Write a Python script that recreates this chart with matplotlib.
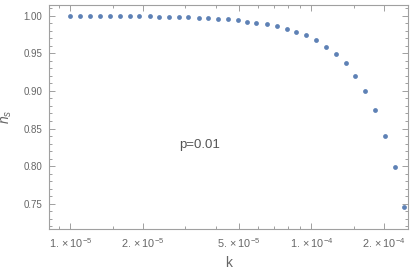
import numpy as np
import matplotlib
matplotlib.use("Agg")
import matplotlib.pyplot as plt
from matplotlib.ticker import FixedLocator, NullFormatter, MultipleLocator

plt.rcParams["font.family"] = ["Liberation Sans", "DejaVu Sans"]
plt.rcParams["mathtext.fontset"] = "custom"
plt.rcParams["mathtext.rm"] = "Liberation Sans"
plt.rcParams["mathtext.it"] = "Liberation Sans:italic"

# values
k = [1.00e-5, 1.10e-5, 1.21e-5, 1.33e-5, 1.46e-5, 1.60e-5, 1.77e-5, 1.93e-5,
     2.13e-5, 2.33e-5, 2.56e-5, 2.82e-5, 3.08e-5, 3.41e-5, 3.74e-5, 4.10e-5,
     4.51e-5, 4.95e-5, 5.41e-5, 5.91e-5, 6.57e-5, 7.20e-5, 7.92e-5, 8.66e-5,
     9.52e-5, 1.041e-4, 1.152e-4, 1.26e-4, 1.385e-4, 1.515e-4, 1.671e-4,
     1.838e-4, 2.016e-4, 2.218e-4, 2.424e-4]
n_s = [0.9998, 0.9998, 0.9998, 0.9998, 0.9998, 0.9998, 0.9998, 0.9998,
       0.9998, 0.9982, 0.9982, 0.9982, 0.9982, 0.9965, 0.9965, 0.9951,
       0.9951, 0.9938, 0.9920, 0.9903, 0.9889, 0.9858, 0.9827, 0.9783,
       0.9739, 0.9677, 0.9584, 0.9491, 0.9372, 0.9204, 0.9004, 0.8743,
       0.8407, 0.7990, 0.7452]

x_major = [1e-5, 2e-5, 5e-5, 1e-4, 2e-4]
x_major_labels = [r"$\mathregular{1.\times10^{-5}}$", r"$\mathregular{2.\times10^{-5}}$",
                  r"$\mathregular{5.\times10^{-5}}$", r"$\mathregular{1.\times10^{-4}}$",
                  r"$\mathregular{2.\times10^{-4}}$"]
x_minor = [9e-6, 1.5e-5, 3e-5, 4e-5, 6e-5, 7e-5, 8e-5, 9e-5, 1.5e-4]

FRAME = "#a0a0a0"
TEXT = "#666666"
DOT = "#5e81b5"

fig = plt.figure(figsize=(4.14, 2.73), dpi=100)
ax = fig.add_axes([0.119, 0.162, 0.8665, 0.821])

ax.scatter(k, n_s, s=12, color=DOT, linewidths=0, zorder=3)

ax.set_xscale("log")
ax.set_xlim(8.18e-6, 2.513e-4)
ax.set_ylim(0.7168, 1.0146)

ax.xaxis.set_major_locator(FixedLocator(x_major))
ax.set_xticklabels(x_major_labels)
ax.xaxis.set_minor_locator(FixedLocator(x_minor))
ax.xaxis.set_minor_formatter(NullFormatter())

ax.yaxis.set_major_locator(MultipleLocator(0.05))
ax.yaxis.set_minor_locator(MultipleLocator(0.01))
ax.yaxis.set_major_formatter(plt.FuncFormatter(lambda v, p: f"{v:.2f}"))

for sp in ax.spines.values():
    sp.set_color(FRAME)
    sp.set_linewidth(0.8)

ax.tick_params(which="both", direction="in", top=True, right=True,
               color=FRAME, labelcolor=TEXT, labelsize=7, width=0.7)
ax.tick_params(which="major", length=4, pad=5)
ax.tick_params(which="minor", length=2)
ax.tick_params(axis="x", which="major", labelsize=7.8)

ax.set_xlabel("k", fontsize=10, color=TEXT, labelpad=5)
ax.set_ylabel(r"$n_s$", fontsize=10, color=TEXT, labelpad=7)

ax.text(0.42, 0.374, "p=0.01", transform=ax.transAxes, fontsize=9.5,
        color="#555555", ha="center", va="center")

fig.savefig("out.png", dpi=100)
